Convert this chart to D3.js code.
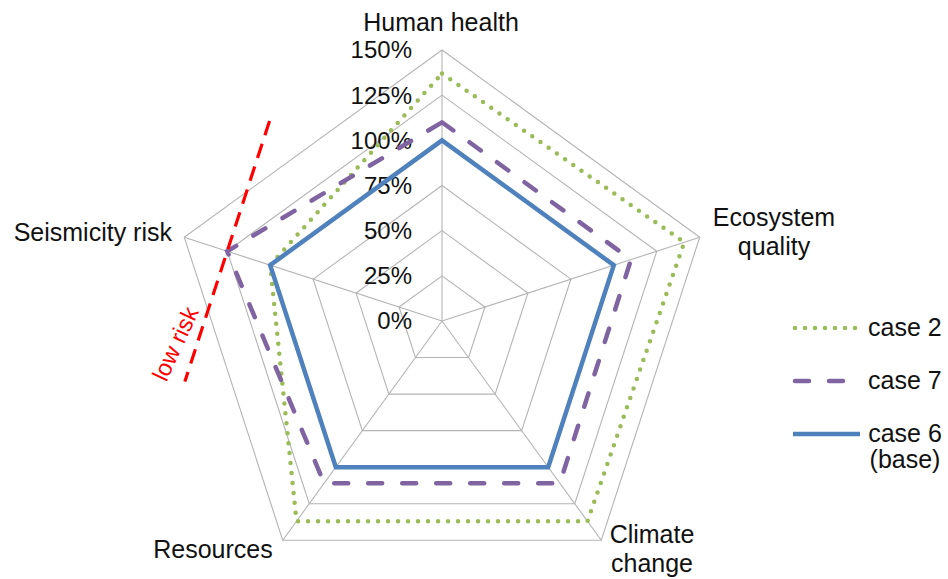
<!DOCTYPE html>
<html>
<head>
<meta charset="utf-8">
<script src="https://cdn.jsdelivr.net/npm/d3@7"></script>
<style>
  html, body { margin: 0; padding: 0; background: #fff; }
  svg { display: block; font-family: "Liberation Sans", Arial, sans-serif; }
</style>
</head>
<body>
<svg id="chart" width="948" height="579"></svg>
<script>
// ---- data ----
const categories = ["Human health", "Ecosystem quality", "Climate change", "Resources", "Seismicity risk"];
const seriesNames = ["case 2", "case 7", "case 6 (base)"];
const case2 = [137, 141, 137, 137, 100];
const case7 = [110, 110, 111, 111, 125];
const case6 = [100, 100, 100, 100, 100];
const tickValues = [0, 25, 50, 75, 100, 125, 150];
const tickLabels = ["0%", "25%", "50%", "75%", "100%", "125%", "150%"];
const lowRiskLevel = 125; // on "Seismicity risk" axis
const lowRiskLabel = "low risk";

// ---- layout ----
const cx = 442, cy = 321, R = 271;
const svg = d3.select("#chart");
const r = d3.scaleLinear().domain([0, 150]).range([0, R]);
const n = categories.length;
const angle = d3.scaleLinear().domain([0, n]).range([0, 2 * Math.PI]);
function pt(i, v) {
  const a = angle(i);
  return [cx + r(v) * Math.sin(a), cy - r(v) * Math.cos(a)];
}

const g = svg.append("g");

// grid rings
const gridColor = "#b4b4b4";
tickValues.filter(v => v > 0).forEach(v => {
  g.append("path")
    .attr("d", d3.line()(d3.range(n).map(i => pt(i, v))) + "Z")
    .attr("fill", "none").attr("stroke", gridColor).attr("stroke-width", 1.1);
});
// spokes
d3.range(n).forEach(i => {
  const p = pt(i, 150);
  g.append("line").attr("x1", cx).attr("y1", cy).attr("x2", p[0]).attr("y2", p[1])
    .attr("stroke", gridColor).attr("stroke-width", 1.1);
});

// tick labels
tickValues.forEach((v, k) => {
  g.append("text")
    .attr("x", cx - 30).attr("y", cy - r(v))
    .attr("dy", "0.35em")
    .attr("text-anchor", "end")
    .attr("font-size", 24).attr("fill", "#111")
    .text(tickLabels[k]);
});

// series
const styles = [
  { data: case2, color: "#9bbb59", width: 4.5, dash: "0 10", cap: "round" },
  { data: case7, color: "#8064a2", width: 4.5, dash: "14 20", cap: "round" },
  { data: case6, color: "#4f81bd", width: 4.5, dash: null, cap: "butt" }
];
const radarLine = d3.line().curve(d3.curveLinearClosed);
styles.forEach(s => {
  g.append("path")
    .attr("d", radarLine(s.data.map((v, i) => pt(i, v))))
    .attr("fill", "none")
    .attr("stroke", s.color)
    .attr("stroke-width", s.width)
    .attr("stroke-dasharray", s.dash)
    .attr("stroke-linecap", s.cap)
    .attr("stroke-linejoin", "miter");
});

// category labels
const catLabelPos = [
  { lines: ["Human health"], x: 441, y: 31, anchor: "middle" },
  { lines: ["Ecosystem", "quality"], x: 774, y: 226, anchor: "middle" },
  { lines: ["Climate", "change"], x: 652, y: 543, anchor: "middle" },
  { lines: ["Resources"], x: 213, y: 558, anchor: "middle" },
  { lines: ["Seismicity risk"], x: 172, y: 241, anchor: "end" }
];
categories.forEach((c, i) => {
  const p = catLabelPos[i];
  const t = g.append("text")
    .attr("x", p.x).attr("y", p.y)
    .attr("text-anchor", p.anchor)
    .attr("font-size", 25).attr("fill", "#111");
  p.lines.forEach((l, j) => {
    t.append("tspan").attr("x", p.x).attr("dy", j === 0 ? 0 : 29).text(l);
  });
});

// low-risk threshold line (perpendicular to Seismicity axis)
const si = categories.indexOf("Seismicity risk");
const base = pt(si, lowRiskLevel);
const a = angle(si);
const ux = Math.sin(a), uy = -Math.cos(a);      // outward axis direction
let px = -uy, py = ux;                          // perpendicular
if (py < 0) { px = -px; py = -py; }             // point downward
const L = 137;
g.append("line")
  .attr("x1", base[0] - px * L).attr("y1", base[1] - py * L)
  .attr("x2", base[0] + px * L).attr("y2", base[1] + py * L)
  .attr("stroke", "#ff0000").attr("stroke-width", 3.2)
  .attr("stroke-dasharray", "15 9");
const lblT = 105, lblOff = 12.7;
const rot = Math.atan2(-py, -px) * 180 / Math.PI + 7;
g.append("text")
  .attr("transform", `translate(${base[0] + px * lblT + ux * lblOff},${base[1] + py * lblT + uy * lblOff}) rotate(${rot})`)
  .attr("text-anchor", "middle")
  .attr("font-size", 23.5).attr("fill", "#ff0000")
  .text(lowRiskLabel);

// legend
const legX1 = 793, legX2 = 860, legTextX = 868;
const legY = [328, 381, 434];
styles.forEach((s, k) => {
  g.append("line")
    .attr("x1", legX1 + (s.cap === "round" ? 2 : 0)).attr("x2", legX2)
    .attr("y1", legY[k]).attr("y2", legY[k])
    .attr("stroke", s.color).attr("stroke-width", s.width)
    .attr("stroke-dasharray", s.dash)
    .attr("stroke-linecap", s.cap);
  const parts = seriesNames[k].split(" (");
  const t = g.append("text")
    .attr("x", legTextX).attr("y", legY[k] + 8)
    .attr("font-size", 25).attr("fill", "#111");
  if (parts.length > 1) {
    t.attr("text-anchor", "middle").attr("x", 905);
    t.append("tspan").attr("x", 905).text(parts[0]);
    t.append("tspan").attr("x", 905).attr("dy", 26).text("(" + parts[1]);
  } else {
    t.text(parts[0]);
  }
});
</script>
</body>
</html>
